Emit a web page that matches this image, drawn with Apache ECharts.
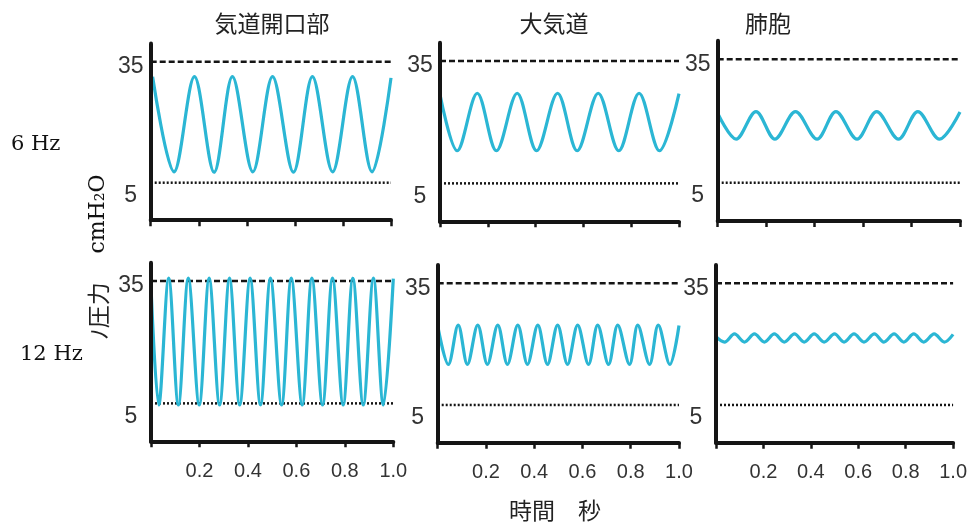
<!DOCTYPE html>
<html>
<head>
<meta charset="utf-8">
<script src="https://cdn.jsdelivr.net/npm/echarts@6/dist/echarts.min.js"></script>
<style>
html,body{margin:0;padding:0;background:#fff;}
#chart{width:970px;height:527px;}
</style>
</head>
<body>
<div id="chart"></div>
<script>
// ---------- data ----------
const columnTitles = ['気道開口部', '大気道', '肺胞'];
const rowLabels = ['6 Hz', '12 Hz'];
const yAxisTitle = ['ﾉ圧力', 'cmH₂O'];
const xAxisTitle = '時間　秒';
const yTickValues = [5, 35];
const xTickValues = [0, 0.2, 0.4, 0.6, 0.8, 1.0];
const upperLimit = 35;   // dashed line
const lowerLimit = 5;    // dotted line

// [time s, pressure cmH2O] at the visible peaks/troughs of each trace
const opening6Hz = [[0.008,31.3],[0.097,7.7],[0.182,31.3],[0.264,7.6],[0.340,31.3],[0.425,7.7],[0.507,31.3],[0.594,7.6],[0.673,31.3],[0.757,7.7],[0.840,31.3],[0.921,7.7],[1.0,31.0]];
const airway6Hz  = [[0,26.8],[0.072,13.0],[0.156,27.1],[0.236,13.0],[0.323,27.1],[0.404,13.0],[0.492,27.1],[0.574,13.0],[0.662,27.1],[0.748,13.0],[0.833,27.1],[0.918,13.0],[1.0,27.0]];
const alveoli6Hz = [[0,21.9],[0.076,15.6],[0.158,22.3],[0.236,15.6],[0.321,22.3],[0.410,15.6],[0.488,22.3],[0.575,15.6],[0.656,22.3],[0.746,15.6],[0.826,22.3],[0.915,15.6],[1.0,22.2]];
const opening12Hz = [[0,33.5],[0.032,4.6],[0.073,35.7],[0.113,4.6],[0.154,35.7],[0.199,4.6],[0.240,35.7],[0.283,4.6],[0.324,35.7],[0.366,4.6],[0.409,35.7],[0.452,4.6],[0.493,35.7],[0.539,4.6],[0.579,35.7],[0.624,4.6],[0.664,35.7],[0.708,4.6],[0.749,35.7],[0.793,4.6],[0.833,35.7],[0.876,4.6],[0.918,35.7],[0.959,4.6],[1.0,35.6]];
const airway12Hz = [[0,24.5],[0.044,15.0],[0.085,24.7],[0.123,15.0],[0.166,24.7],[0.206,15.0],[0.249,24.7],[0.289,15.0],[0.332,24.7],[0.372,15.0],[0.415,24.7],[0.455,15.0],[0.497,24.7],[0.538,15.0],[0.580,24.7],[0.625,15.0],[0.663,24.7],[0.708,15.0],[0.746,24.7],[0.795,15.0],[0.829,24.7],[0.878,15.0],[0.914,24.7],[0.962,15.0],[1.0,24.6]];
const alveoli12Hz = [[0,21.8],[0.036,20.5],[0.078,22.5],[0.120,20.5],[0.162,22.5],[0.204,20.5],[0.246,22.5],[0.288,20.5],[0.331,22.5],[0.372,20.5],[0.414,22.5],[0.456,20.5],[0.500,22.5],[0.540,20.5],[0.582,22.5],[0.624,20.5],[0.668,22.5],[0.708,20.5],[0.751,22.5],[0.792,20.5],[0.834,22.5],[0.876,20.5],[0.920,22.5],[0.963,20.5],[1.0,22.4]];

const traces = [opening6Hz, airway6Hz, alveoli6Hz, opening12Hz, airway12Hz, alveoli12Hz];

// ---------- layout / style ----------
const GRIDS = [
  {left:150.7, top:43.6, width:240.3, height:176.6},
  {left:440.0, top:42.7, width:239.0, height:178.6},
  {left:717.7, top:40.8, width:242.3, height:180.2},
  {left:151.0, top:262.7, width:242.3, height:178.6},
  {left:437.7, top:265.0, width:241.3, height:177.7},
  {left:716.0, top:265.0, width:242.3, height:177.7}
];
const NUM_FONT = '"Liberation Sans Narrow", "Liberation Sans", Arial, sans-serif';
const CJK_FONT = '"Noto Sans CJK JP", "Noto Sans", sans-serif';
const SERIF_FONT = '"DejaVu Serif", "Liberation Serif", serif';
const INK = '#151515';
const WAVE = '#2bb6d4';

const grid = [], xAxis = [], yAxis = [], series = [];
GRIDS.forEach((g, i) => {
  grid.push(Object.assign({containLabel:false}, g));
  xAxis.push({
    type:'value', gridIndex:i, min:xTickValues[0], max:xTickValues[xTickValues.length-1], interval:0.2,
    axisLine:{show:true, onZero:false, lineStyle:{color:INK, width:4}},
    axisTick:{show:true, length:6, lineStyle:{color:INK, width:2.5}},
    splitLine:{show:false},
    axisLabel:{show:i >= 3, margin:20, fontSize:20, color:'#333', fontFamily:NUM_FONT,
      formatter:v => v === 0 ? '' : v.toFixed(1)}
  });
  yAxis.push({
    type:'value', gridIndex:i, min:-4.3, max:39.5, z:5,
    axisLine:{show:true, onZero:false, lineStyle:{color:INK, width:4}},
    axisTick:{show:false},
    splitLine:{show:false},
    axisLabel:{
      customValues:yTickValues, margin:20, align:'center',
      formatter:v => v === upperLimit ? '{hi|' + v + '}' : '{lo|' + v + '}',
      rich:{
        hi:{padding:[10,0,0,0], fontSize:23, color:'#333', fontFamily:NUM_FONT},
        lo:{padding:[26,0,0,0], fontSize:23, color:'#333', fontFamily:NUM_FONT}
      }
    }
  });
  series.push({
    type:'line', xAxisIndex:i, yAxisIndex:i, z:2, symbol:'none', silent:true,
    data:[[0, upperLimit],[1, upperLimit]],
    lineStyle:{color:INK, width:2.5, type:[6,3]}
  });
  series.push({
    type:'line', xAxisIndex:i, yAxisIndex:i, z:2, symbol:'none', silent:true,
    data:[[0, lowerLimit],[1, lowerLimit]],
    lineStyle:{color:INK, width:2.5, type:[2,2]}
  });
  series.push({
    type:'line', xAxisIndex:i, yAxisIndex:i, z:3, symbol:'none', silent:true,
    smooth:0.333, data:traces[i],
    lineStyle:{color:WAVE, width:3.2}
  });
});

const titleX = [272, 554, 768];
const graphic = [];
columnTitles.forEach((t, i) => graphic.push({
  type:'text', x:titleX[i], y:23,
  style:{text:t, fontSize:23, fontFamily:CJK_FONT, fill:'#222', align:'center', verticalAlign:'middle'}
}));
graphic.push({type:'text', x:11, y:145, style:{text:rowLabels[0], fontSize:21, fontFamily:SERIF_FONT, fill:'#111', align:'left', verticalAlign:'middle'}});
graphic.push({type:'text', x:20, y:355, style:{text:rowLabels[1], fontSize:21, fontFamily:SERIF_FONT, fill:'#111', align:'left', verticalAlign:'middle'}});
graphic.push({type:'text', x:98, y:311, rotation:Math.PI/2,
  style:{text:yAxisTitle[0], fontSize:23, fontFamily:CJK_FONT, fill:'#222', align:'center', verticalAlign:'middle'}});
graphic.push({type:'text', x:98, y:214, rotation:Math.PI/2,
  style:{text:yAxisTitle[1], fontSize:22, fontFamily:SERIF_FONT, fill:'#111', align:'center', verticalAlign:'middle'}});
graphic.push({type:'text', x:555, y:510,
  style:{text:xAxisTitle, fontSize:23, fontFamily:CJK_FONT, fill:'#222', align:'center', verticalAlign:'middle'}});

const chart = echarts.init(document.getElementById('chart'), null, {renderer:'canvas'});
chart.setOption({animation:false, backgroundColor:'#fff', grid, xAxis, yAxis, series, graphic});
</script>
</body>
</html>
